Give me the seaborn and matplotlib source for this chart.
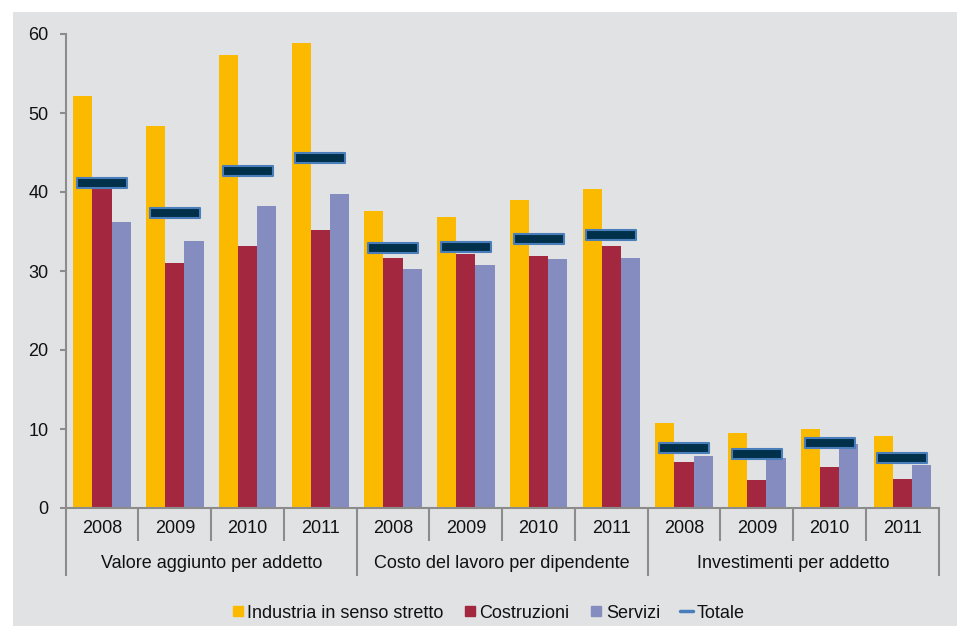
import numpy as np
import pandas as pd
import matplotlib
matplotlib.use("Agg")
import matplotlib.pyplot as plt
import matplotlib.transforms as mtransforms
from matplotlib.lines import Line2D
from matplotlib.patches import Rectangle
from matplotlib.path import Path
import seaborn as sns

# ---- data -------------------------------------------------------------
groups = ["Valore aggiunto per addetto",
          "Costo del lavoro per dipendente",
          "Investimenti per addetto"]
years = ["2008", "2009", "2010", "2011"]
series = ["Industria in senso stretto", "Costruzioni", "Servizi"]

industria = [52.2, 48.3, 57.3, 58.9,
             37.6, 36.8, 39.0, 40.4,
             10.8, 9.5, 10.0, 9.1]
costruzioni = [40.4, 31.0, 33.2, 35.2,
               31.6, 32.2, 31.9, 33.2,
               5.8, 3.5, 5.2, 3.7]
servizi = [36.2, 33.8, 38.2, 39.8,
           30.2, 30.7, 31.5, 31.6,
           6.6, 6.3, 8.1, 5.5]
totale = [41.1, 37.3, 42.7, 44.3,
          32.9, 33.0, 34.0, 34.6,
          7.6, 6.8, 8.2, 6.3]

colors = ["#fbba00", "#a3283f", "#858cbf"]
tot_face = "#00304a"
tot_edge = "#4a7ebb"
axis_gray = "#8c8c8c"
panel_gray = "#e1e2e4"
FS = 13

# ---- long-form table --------------------------------------------------
slots = [f"{g}|{y}" for g in groups for y in years]
rows = []
for name, vals in zip(series, [industria, costruzioni, servizi]):
    for s, v in zip(slots, vals):
        rows.append({"slot": s, "serie": name, "valore": v})
df = pd.DataFrame(rows)

# ---- figure -----------------------------------------------------------
sns.set_theme(style="white")
plt.rcParams["font.family"] = ["Liberation Sans", "DejaVu Sans"]
plt.rcParams["text.color"] = "#111111"

W, H = 957, 626
fig = plt.figure(figsize=(W / 100, H / 100), dpi=100, facecolor="white")
fig.patches.append(Rectangle((13 / W, 0), 1 - 13 / W, (H - 12) / H,
                             transform=fig.transFigure, facecolor=panel_gray,
                             edgecolor="none", zorder=-10))

ax_left, ax_right = 65.7 / W, 938.7 / W
ax_top, ax_bottom = 1 - 34 / H, 1 - 508 / H
ax = fig.add_axes([ax_left, ax_bottom, ax_right - ax_left, ax_top - ax_bottom])
ax.set_facecolor("none")

sns.barplot(data=df, x="slot", y="valore", hue="serie", order=slots,
            hue_order=series, palette=colors, saturation=1, width=0.79,
            gap=0, legend=False, ax=ax, zorder=2, linewidth=0)

# Totale drawn as wide flat dash markers
dash = Path([(-25.5, -5.5), (25.5, -5.5), (25.5, 5.5), (-25.5, 5.5), (-25.5, -5.5)],
            [Path.MOVETO, Path.LINETO, Path.LINETO, Path.LINETO, Path.CLOSEPOLY])
sns.scatterplot(x=np.arange(len(slots)), y=totale, marker=dash,
                s=36.7 ** 2, color=tot_face, edgecolor=tot_edge,
                linewidth=1.5, ax=ax, zorder=5, legend=False)

ax.set_xlim(-0.5, len(slots) - 0.5)
ax.set_ylim(0, 60)
ax.set_yticks([0, 10, 20, 30, 40, 50, 60])
ax.set_xlabel("")
ax.set_ylabel("")

for side in ["top", "right"]:
    ax.spines[side].set_visible(False)
for side in ["left", "bottom"]:
    ax.spines[side].set_color(axis_gray)
    ax.spines[side].set_linewidth(1.5)

ax.tick_params(axis="y", direction="out", length=4.3, width=1.5,
               color=axis_gray, pad=8, labelsize=FS, labelcolor="#111111")
ax.tick_params(axis="y", which="both", left=True)

# year labels as tick labels under each slot
ax.set_xticks(np.arange(len(slots)))
ax.set_xticklabels(years * len(groups))
ax.tick_params(axis="x", length=0, pad=15.1, labelsize=FS,
               labelcolor="#111111")
for lbl in ax.get_xticklabels():
    lbl.set_va("center")

# separators of the two-level category axis
trans = mtransforms.blended_transform_factory(ax.transData, ax.transAxes)
ax_h = 508 - 34
short_y = -33 / ax_h
long_y = -68 / ax_h
for k in range(len(slots) + 1):
    xb = k - 0.5
    yb = long_y if k % len(years) == 0 else short_y
    ax.add_line(Line2D([xb, xb], [0, yb], transform=trans, color=axis_gray,
                       lw=1.5, clip_on=False, solid_capstyle="butt"))

# group labels
for i, g in enumerate(groups):
    xc = i * len(years) + (len(years) - 1) / 2
    ax.text(xc, -56 / ax_h, g, transform=trans, ha="center", va="center",
            fontsize=FS, color="#111111")

# legend
handles = [Line2D([], [], marker="s", linestyle="none", markersize=7.2,
                  markerfacecolor=c, markeredgecolor=c) for c in colors]
handles.append(Line2D([], [], color=tot_edge, lw=2.5))
fig.legend(handles, series + ["Totale"], loc="center",
           bbox_to_anchor=(487.5 / W, 1 - 613 / H), ncol=4, frameon=False,
           fontsize=FS, handlelength=0.75, handletextpad=0.15,
           columnspacing=1.1, borderpad=0, borderaxespad=0)

fig.savefig("out.png", dpi=100, facecolor="white")
